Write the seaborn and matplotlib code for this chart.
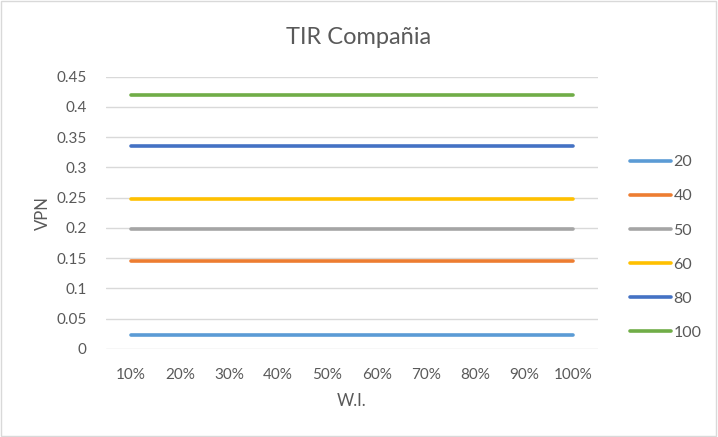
import matplotlib
matplotlib.use("Agg")
import matplotlib.pyplot as plt
import seaborn as sns
import pandas as pd
from matplotlib.patches import Rectangle

categories = ["10%", "20%", "30%", "40%", "50%", "60%", "70%", "80%", "90%", "100%"]
series_names = ["20", "40", "50", "60", "80", "100"]
series_values = {
    "20": [0.023] * 10,
    "40": [0.145] * 10,
    "50": [0.198] * 10,
    "60": [0.248] * 10,
    "80": [0.336] * 10,
    "100": [0.419] * 10,
}
colors = ["#5B9BD5", "#ED7D31", "#A5A5A5", "#FFC000", "#4472C4", "#70AD47"]
y_ticks = [0, 0.05, 0.1, 0.15, 0.2, 0.25, 0.3, 0.35, 0.4, 0.45]
y_labels = ["0", "0.05", "0.1", "0.15", "0.2", "0.25", "0.3", "0.35", "0.4", "0.45"]

rows = []
for name in series_names:
    for i, v in enumerate(series_values[name]):
        rows.append({"pos": i, "W.I.": categories[i], "VPN": v, "serie": name})
df = pd.DataFrame(rows)

sns.set_style("white")
plt.rcParams["font.family"] = ["Lato", "DejaVu Sans"]

fig = plt.figure(figsize=(7.18, 4.37), dpi=100)
ax = fig.add_axes([0.1476, 0.202, 0.833 - 0.1476, 0.8245 - 0.202])

sns.lineplot(data=df, x="pos", y="VPN", hue="serie", hue_order=series_names,
             palette=colors, linewidth=2.6, ax=ax, legend=True, solid_capstyle="round")

ax.set_xlim(-0.5, 9.5)
ax.set_ylim(0, 0.45)
ax.set_xticks(range(len(categories)))
ax.set_xticklabels(categories)
ax.set_yticks(y_ticks)
ax.set_yticklabels(y_labels)
ax.grid(axis="y", color="#D9D9D9", linewidth=1)
ax.set_axisbelow(True)
for s in ax.spines.values():
    s.set_visible(False)
ax.tick_params(axis="both", length=0, colors="#595959", labelsize=11)
ax.tick_params(axis="x", pad=14)
ax.tick_params(axis="y", pad=14)
ax.set_xlabel("W.I.", color="#595959", fontsize=12, labelpad=8)
ax.set_ylabel("VPN", color="#595959", fontsize=12, labelpad=4)

fig.text(0.5, 1 - 38 / 437, "TIR Compañia", ha="center", va="center",
         fontsize=17, color="#595959")

leg = ax.legend(loc="center left", bbox_to_anchor=(1.036, 0.372), frameon=False,
                fontsize=11.5, handlelength=2.55, handletextpad=0.15, labelspacing=1.25,
                labelcolor="#595959")
for line in leg.get_lines():
    line.set_linewidth(2.6)

fig.patches.append(Rectangle((0.002, 0.003), 0.995, 0.994, transform=fig.transFigure,
                             fill=False, edgecolor="#D9D9D9", linewidth=1))

fig.savefig("out.png", dpi=100)
